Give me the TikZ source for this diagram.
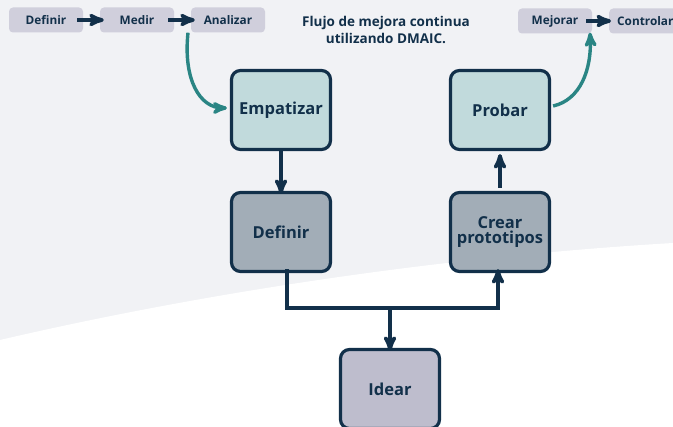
\documentclass[tikz,border=0pt]{standalone}
\usepackage{fontspec}
\setmainfont{Open Sans}
\usetikzlibrary{arrows}

\definecolor{navy}{HTML}{12304A}
\definecolor{teal}{HTML}{2A8584}
\definecolor{bggrey}{HTML}{F1F2F5}
\definecolor{tealbox}{HTML}{C1DADC}
\definecolor{greybox}{HTML}{A2ADB7}
\definecolor{lilacbox}{HTML}{BEBDCD}
\definecolor{tagbox}{HTML}{D0CFDC}

\begin{document}
\begin{tikzpicture}[
    x=1pt, y=-1pt,
    phase/.style={draw=navy, line width=3.2pt, rounded corners=9pt,
        minimum width=99pt, minimum height=79pt, align=center,
        text=navy, font=\fontsize{16.5}{18}\selectfont\bfseries},
    tag/.style={fill=tagbox, rounded corners=4pt, minimum width=74pt,
        minimum height=25pt, text=navy,
        font=\fontsize{11.8}{13}\selectfont\bfseries},
    step arrow/.style={navy, line width=3.6pt, ->, >=stealth'},
    flow/.style={navy, line width=3.6pt, ->, >=stealth'},
    link/.style={navy, line width=3.6pt},
    curve/.style={teal, line width=3.4pt, ->, >=stealth'}
    ]
    % background
    \fill[bggrey] (0,0) rectangle (673,427);
    \fill[white] (0,340) .. controls (180,298) and (420,258) .. (673,243)
        -- (673,427) -- (0,427) -- cycle;
    \useasboundingbox (0,0) rectangle (673,427);
    % DMAIC tags
    \node[tag] (def) at (46,20) {Definir};
    \node[tag] (med) at (137,20) {Medir};
    \node[tag] (ana) at (228,20) {Analizar};
    \node[tag] (mej) at (555,21) {Mejorar};
    \node[tag, anchor=west, text width=66pt, inner xsep=8pt] (con) at (609,21) {Controlar};
    \draw[step arrow] (def.east) ++(-6,0) coordinate (d1) -- ([xshift=4pt]med.west);
    \draw[step arrow] (med.east) ++(-6,0) coordinate (m1) -- ([xshift=4pt]ana.west);
    \draw[step arrow] (mej.east) ++(-6,0) coordinate (j1) -- ([xshift=2pt]con.west);
    % title
    \node[text=navy, align=center, font=\fontsize{13.5}{16.5}\selectfont\bfseries]
        (title) at (386,30) {Flujo de mejora continua\\utilizando DMAIC.};
    % design thinking phases
    \node[phase, fill=tealbox] (emp) at (281,110) {Empatizar};
    \node[phase, fill=tealbox] (pro) at (500,110) {Probar};
    \node[phase, fill=greybox] (dfn) at (281,232) {Definir};
    \node[phase, fill=greybox] (cre) at (500,232) {Crear\\[-3pt]prototipos};
    \node[phase, fill=lilacbox] (ide) at (390,389) {Idear};
    % connectors
    \draw[flow] ([yshift=2pt]emp.south) -- ([yshift=-3pt]dfn.north);
    \draw[flow] ([yshift=3pt]cre.north) -- ([yshift=-3pt]pro.south);
    \draw[link] ([xshift=6pt,yshift=4pt]dfn.south) |- (390,308)
        coordinate (split);
    \draw[flow] (split) -| ([xshift=-2pt,yshift=4pt]cre.south);
    \draw[flow] ([yshift=1.8pt]split) -- ([yshift=-3pt]ide.north);
    % links to DMAIC
    \draw[curve] ([xshift=-40pt]ana.south) .. controls (183,80) and (200,108)
        .. ([xshift=-3pt,yshift=2pt]emp.west);
    \draw[curve] ([xshift=2pt,yshift=4pt]pro.east) .. controls (580,100)
        and (592,70) .. ([xshift=35pt,yshift=1pt]mej.south);
\end{tikzpicture}
\end{document}
